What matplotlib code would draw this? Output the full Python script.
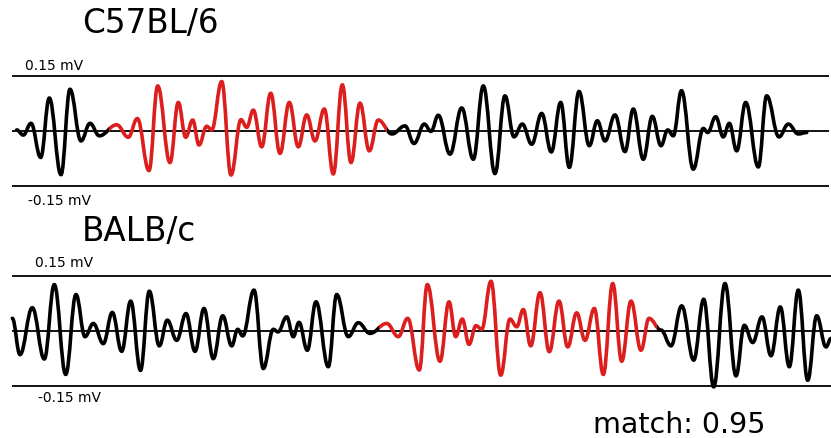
import matplotlib
matplotlib.use('Agg')
import matplotlib.pyplot as plt
from matplotlib.path import Path
from matplotlib.patches import PathPatch, Rectangle

# time positions (arbitrary sample units) and amplitudes (mV) of the turning points
c57_t = [16.7, 23.3, 31, 40.7, 49.3, 61, 70, 81, 90, 99.3,
         116.7, 128.3, 137.3, 149, 157.7, 170, 178.3, 185.7, 192.7, 199,
         206.7, 211.7, 221.7, 231, 241, 246.7, 253.3, 261.7, 270.7, 280,
         289.3, 298.3, 306.7, 315, 324.3, 333.3, 342.3, 351, 360, 369.3,
         378.3, 392, 405, 414, 424.3, 431, 438.3, 450, 461.7, 473.3,
         483.3, 495, 505, 514, 522.3, 531.7, 541.7, 551.3, 560.7, 569.3,
         579, 589.3, 597.3, 605, 615, 625, 633.3, 643.3, 652.3, 661,
         667.7, 673.3, 681.5, 693.3, 703.3, 707.7, 715.7, 723.3, 729.3, 736.7,
         745.7, 758.3, 766.7, 779, 788.3, 798.3, 806.7]
c57_v = [0.004, -0.010, 0.022, -0.071, 0.091, -0.118, 0.115, -0.026, 0.022, -0.012,
         0.018, -0.016, 0.035, -0.107, 0.124, -0.085, 0.079, -0.016, 0.031, -0.037,
         0.014, 0.004, 0.136, -0.119, 0.032, 0.011, 0.058, -0.042, 0.104, -0.060,
         0.079, -0.042, 0.045, -0.026, 0.061, -0.116, 0.127, -0.085, 0.077, -0.053,
         0.031, -0.007, 0.015, -0.033, 0.020, 0.000, 0.044, -0.062, 0.064, -0.076,
         0.124, -0.115, 0.097, -0.015, 0.020, -0.035, 0.049, -0.056, 0.079, -0.098,
         0.109, -0.039, 0.029, -0.026, 0.045, -0.055, 0.061, -0.076, 0.041, -0.039,
         0.004, -0.012, 0.111, -0.103, 0.008, -0.003, 0.040, -0.015, 0.022, -0.053,
         0.079, -0.097, 0.097, -0.015, 0.020, -0.007, -0.003]
c57_red = (109.3, 387.3)

balb_t = [12.3, 20, 32.3, 44.3, 54.3, 65.7, 76, 85, 93.3, 103.3,
          112.3, 121.7, 130.7, 140.5, 149.3, 159.3, 167.3, 176.7, 186, 195,
          204, 213.3, 222.7, 231.7, 237.7, 242.7, 254, 263.3, 273.3, 278,
          286.7, 293.3, 299, 307.3, 316, 328.3, 336.7, 348.3, 358.3, 370,
          386.7, 398.3, 407.7, 419.3, 427.3, 440, 449, 455.7, 462.3, 469,
          476, 481.7, 491, 500.7, 510, 516.7, 523.3, 530.7, 540, 549.3,
          559, 567.7, 576.7, 585, 594.3, 603.3, 612.7, 621.7, 631, 641,
          649, 661, 671, 681.7, 693.7, 703.7, 713.7, 725, 736, 744.3,
          752.7, 762, 771, 780.3, 789.3, 798.3, 807.7, 816.7, 826, 831]
balb_v = [0.034, -0.065, 0.063, -0.077, 0.126, -0.119, 0.099, -0.016, 0.020, -0.035,
          0.050, -0.056, 0.081, -0.108, 0.108, -0.041, 0.029, -0.026, 0.047, -0.056,
          0.061, -0.076, 0.041, -0.041, 0.004, -0.014, 0.111, -0.103, 0.004, -0.003,
          0.038, -0.016, 0.023, -0.053, 0.079, -0.098, 0.099, -0.016, 0.022, -0.007,
          0.020, -0.016, 0.034, -0.107, 0.126, -0.083, 0.079, -0.016, 0.032, -0.037,
          0.014, 0.004, 0.135, -0.121, 0.032, 0.011, 0.058, -0.041, 0.104, -0.057,
          0.081, -0.044, 0.049, -0.026, 0.061, -0.119, 0.129, -0.083, 0.081, -0.053,
          0.034, 0.002, -0.041, 0.068, -0.080, 0.086, -0.153, 0.129, -0.123, 0.015,
          -0.032, 0.038, -0.068, 0.065, -0.098, 0.111, -0.135, 0.041, -0.044, -0.021]
balb_red = (379.0, 656.7)

names = ['C57BL/6', 'BALB/c']
match_score = 0.95

W, H = 831, 439
RED = '#dc1e1e'


def smooth_path(t, v):
    # cubic bezier between turning points, flat tangent at each one
    verts = [(t[0], v[0])]
    codes = [Path.MOVETO]
    for i in range(1, len(t)):
        h = (t[i] - t[i-1]) * 0.4
        verts += [(t[i-1] + h, v[i-1]), (t[i] - h, v[i]), (t[i], v[i])]
        codes += [Path.CURVE4] * 3
    return Path(verts, codes)


def draw_piece(ax, p, color, x0, x1):
    patch = PathPatch(p, fill=False, edgecolor=color, lw=2.6,
                      capstyle='round', joinstyle='round', zorder=2)
    ax.add_patch(patch)
    patch.set_clip_path(Rectangle((x0, -1), x1 - x0, 2, transform=ax.transData))


def draw_trace(ax, t, v, red, xline):
    ax.set_xlim(0, W)
    ax.set_ylim(-0.2, 0.2)
    ax.axis('off')
    for y in (0.15, 0, -0.15):
        ax.hlines(y, xline[0], xline[1], color='black', lw=1.3, zorder=1)
    p = smooth_path(t, v)
    draw_piece(ax, p, 'black', 0, red[0])
    draw_piece(ax, p, RED, red[0], red[1])
    draw_piece(ax, p, 'black', red[1], W + 10)


def axes_at(fig, zero_px):
    # 0.15 mV is 55 px high in the picture
    half = 55 / 0.15 * 0.2
    bottom = (H - (zero_px + half)) / H
    return fig.add_axes([0, bottom, 1, 2 * half / H])


fig = plt.figure(figsize=(W / 100, H / 100), dpi=100)

ax1 = axes_at(fig, 132.4)
draw_trace(ax1, c57_t, c57_v, c57_red, (12, 829))
ax2 = axes_at(fig, 331.8)
draw_trace(ax2, balb_t, balb_v, balb_red, (12, 831))


def label(x, y, s, size):
    fig.text(x / W, 1 - y / H, s, fontsize=size, ha='left', va='center',
             family='DejaVu Sans')


label(82, 24, names[0], 23.5)
label(25, 66, '0.15 mV', 10)
label(28, 201, '-0.15 mV', 10)
label(82, 232, names[1], 23.5)
label(35, 263, '0.15 mV', 10)
label(38, 398, '-0.15 mV', 10)
label(593, 425, 'match: %.2f' % match_score, 20.5)

fig.savefig('out.png', dpi=100)
